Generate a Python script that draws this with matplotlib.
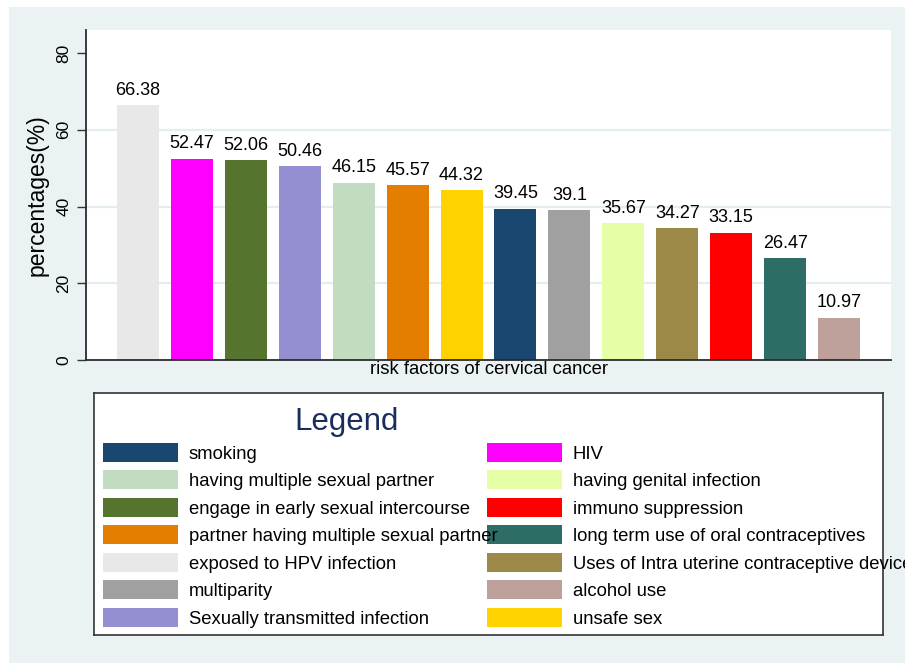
import matplotlib.pyplot as plt
from matplotlib.patches import Rectangle


OUTPUT_PATH = "out.png"
FIG_W, FIG_H = 905, 663

factors = [
    "exposed to HPV infection",
    "HIV",
    "engage in early sexual intercourse",
    "Sexually transmitted infection",
    "having multiple sexual partner",
    "partner having multiple sexual partner",
    "unsafe sex",
    "smoking",
    "multiparity",
    "having genital infection",
    "Uses of Intra uterine contraceptive device",
    "immuno suppression",
    "long term use of oral contraceptives",
    "alcohol use",
]
percentages = [
    66.38, 52.47, 52.06, 50.46, 46.15, 45.57, 44.32,
    39.45, 39.1, 35.67, 34.27, 33.15, 26.47, 10.97,
]
bar_colors = [
    "#E8E8E8", "#FF00FF", "#55752F", "#938FD0", "#C1DCC1", "#E37E00", "#FFD200",
    "#1A476F", "#A0A0A0", "#E6FFA6", "#9C8847", "#FF0000", "#2D6D66", "#BFA19C",
]
y_ticks = [0, 20, 40, 60, 80]
grid_values = [20, 40, 60]

legend_left = [
    "smoking",
    "having multiple sexual partner",
    "engage in early sexual intercourse",
    "partner having multiple sexual partner",
    "exposed to HPV infection",
    "multiparity",
    "Sexually transmitted infection",
]
legend_right = [
    "HIV",
    "having genital infection",
    "immuno suppression",
    "long term use of oral contraceptives",
    "Uses of Intra uterine contraceptive device",
    "alcohol use",
    "unsafe sex",
]


def fig_box(left, top, right, bottom):
    # pixel box (from top-left) -> figure fraction [l, b, w, h]
    return [
        left / FIG_W,
        1 - bottom / FIG_H,
        (right - left) / FIG_W,
        (bottom - top) / FIG_H,
    ]


def create_chart() -> None:
    plt.rcParams["font.family"] = ["Liberation Sans", "DejaVu Sans"]

    fig = plt.figure(figsize=(FIG_W / 100, FIG_H / 100), dpi=100, facecolor="white")
    fig.add_artist(
        Rectangle(
            (9 / FIG_W, 0),
            1,
            1 - 7 / FIG_H,
            transform=fig.transFigure,
            facecolor="#EAF2F3",
            edgecolor="none",
            zorder=0,
        )
    )

    # bar chart
    ax = fig.add_axes(fig_box(86, 30, 891, 360))
    ax.set_facecolor("white")
    positions = range(len(factors))
    bars = ax.bar(positions, percentages, width=0.78, color=bar_colors, zorder=2)
    for bar, value in zip(bars, percentages):
        ax.annotate(
            f"{value:g}",
            (bar.get_x() + bar.get_width() / 2, value),
            xytext=(0, 7.5),
            textcoords="offset points",
            ha="center",
            va="baseline",
            fontsize=13,
        )

    for value in grid_values:
        ax.axhline(value, color="#E4EEF1", linewidth=1.6, zorder=1)

    ax.set_xlim(-0.964, 13.964)
    ax.set_ylim(0, 86)
    ax.set_xticks([])
    ax.set_yticks(y_ticks)
    ax.set_yticklabels([str(t) for t in y_ticks], rotation=90, va="center", fontsize=12.5)
    ax.tick_params(axis="y", length=6.5, width=1, color="#333333", pad=4)

    for side in ["top", "right"]:
        ax.spines[side].set_visible(False)
    for side in ["left", "bottom"]:
        ax.spines[side].set_color("#2B2B2B")
        ax.spines[side].set_linewidth(1.3)

    ax.set_xlabel("risk factors of cervical cancer", fontsize=13.3, labelpad=1)
    ax.set_ylabel("percentages(%)", fontsize=16.5)
    ax.yaxis.set_label_coords(-0.047, 0.5)

    # legend box drawn in pixel coordinates
    color_of = dict(zip(factors, bar_colors))
    lax = fig.add_axes(fig_box(94, 393, 883, 635))
    lax.set_xlim(94, 883)
    lax.set_ylim(635, 393)
    lax.set_xticks([])
    lax.set_yticks([])
    for spine in lax.spines.values():
        spine.set_color("#333333")
        spine.set_linewidth(1.2)

    lax.text(347, 422, "Legend", ha="center", va="center", fontsize=22.5, color="#1B2E5B")

    for swatch_x, text_x, names in [(103, 189, legend_left), (487, 573, legend_right)]:
        for i, name in enumerate(names):
            top = 443 + i * 27.5
            lax.add_patch(
                Rectangle((swatch_x, top), 75, 19, facecolor=color_of[name],
                          edgecolor="none", zorder=2)
            )
            lax.text(text_x, top + 16, name, va="baseline", fontsize=13.3,
                     zorder=3, clip_on=False)

    fig.savefig(OUTPUT_PATH, dpi=100)
    plt.close(fig)


if __name__ == "__main__":
    create_chart()
